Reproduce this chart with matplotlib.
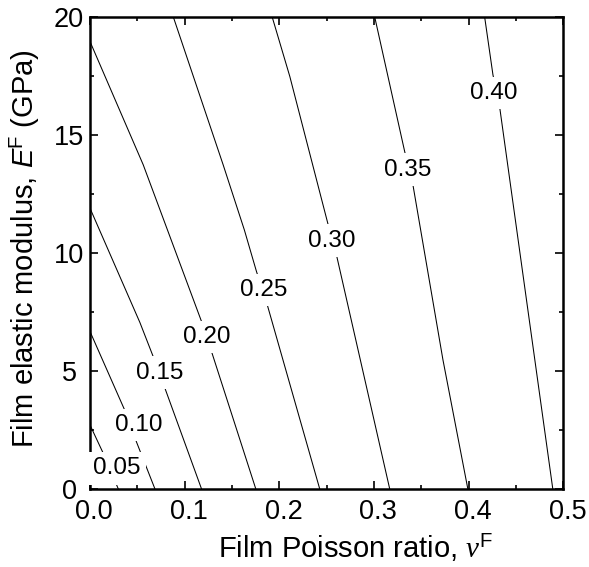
import matplotlib
matplotlib.use("Agg")
import matplotlib.pyplot as plt
from matplotlib.ticker import MultipleLocator
from matplotlib.transforms import ScaledTranslation

plt.rcParams['font.family'] = ['Liberation Sans', 'DejaVu Sans']
plt.rcParams['mathtext.fontset'] = 'custom'
plt.rcParams['mathtext.rm'] = 'Liberation Sans'
plt.rcParams['mathtext.it'] = 'Liberation Serif:italic'
plt.rcParams['mathtext.sf'] = 'Liberation Sans:italic'

# contour levels and their lines (Poisson ratio nu, modulus E in GPa)
levels = ["0.05", "0.10", "0.15", "0.20", "0.25", "0.30", "0.35", "0.40"]

nu_005 = [0.0, 0.014, 0.0299]
E_005 = [2.71, 1.51, 0.0]
nu_010 = [0.0, 0.0362, 0.049, 0.0686]
E_010 = [6.67, 3.38, 2.0, 0.0]
nu_015 = [0.0, 0.0527, 0.0668, 0.0791, 0.1178]
E_015 = [11.89, 7.05, 5.6, 4.27, 0.0]
nu_020 = [0.0, 0.0562, 0.1178, 0.128, 0.1751]
E_020 = [18.95, 13.73, 7.09, 5.86, 0.0]
nu_025 = [0.0879, 0.1406, 0.163, 0.1758, 0.1864, 0.2426]
E_025 = [20.0, 13.73, 10.97, 9.21, 7.91, 0.0]
nu_030 = [0.1923, 0.211, 0.2515, 0.2602, 0.3165]
E_030 = [20.0, 17.47, 11.19, 9.92, 0.0]
nu_035 = [0.3006, 0.3323, 0.3404, 0.3727, 0.399]
E_035 = [20.0, 14.29, 13.02, 5.47, 0.0]
nu_040 = [0.4167, 0.4255, 0.4325, 0.4624, 0.4887]
E_040 = [20.0, 17.54, 16.2, 7.58, 0.0]

label_nu = [0.028, 0.052, 0.0738, 0.1238, 0.1835, 0.2556, 0.3358, 0.4262]
label_E = [0.88, 2.71, 4.93, 6.43, 8.43, 10.52, 13.52, 16.77]

x_ticks = [0.0, 0.1, 0.2, 0.3, 0.4, 0.5]
x_ticklabels = ["0.0", "0.1", "0.2", "0.3", "0.4", "0.5"]
y_ticks = [0, 5, 10, 15, 20]
y_ticklabels = ["0", "5", "10", "15", "20"]

lines_nu = [nu_005, nu_010, nu_015, nu_020, nu_025, nu_030, nu_035, nu_040]
lines_E = [E_005, E_010, E_015, E_020, E_025, E_030, E_035, E_040]

fig = plt.figure(figsize=(5.89, 5.67), dpi=100)
ax = fig.add_axes([0.1528, 0.1376, 0.8039, 0.8329])

for xs, ys in zip(lines_nu, lines_E):
    ax.plot(xs, ys, color='black', lw=0.75, zorder=2)

for lab, lx, ly in zip(levels, label_nu, label_E):
    ax.text(lx, ly, lab, ha='center', va='center', fontsize=17.5, zorder=3,
            bbox=dict(boxstyle='square,pad=0.22', fc='white', ec='none'))

ax.set_xlim(0, 0.5)
ax.set_ylim(0, 20)
ax.set_xticks(x_ticks)
ax.set_xticklabels(x_ticklabels)
ax.set_yticks(y_ticks)
ax.set_yticklabels(y_ticklabels)
ax.xaxis.set_minor_locator(MultipleLocator(0.05))
ax.yaxis.set_minor_locator(MultipleLocator(2.5))

ax.tick_params(which='both', direction='in', top=True, right=True, width=1.2, labelsize=19.5)
ax.tick_params(which='major', length=5.5)
ax.tick_params(which='minor', length=3.2)
ax.tick_params(axis='x', pad=7.5)
ax.tick_params(axis='y', pad=15)
for s in ax.spines.values():
    s.set_linewidth(1.8)

shift = ScaledTranslation(4 / 100, 0, fig.dpi_scale_trans)
for lbl in ax.get_xticklabels():
    lbl.set_transform(lbl.get_transform() + shift)
for lbl in ax.get_yticklabels():
    lbl.set_ha('center')

ax.set_xlabel(r'Film Poisson ratio, $\nu^{\mathrm{F}}$', fontsize=21)
ax.set_ylabel(r'Film elastic modulus, $\mathsf{E}^{\mathrm{F}}$ (GPa)', fontsize=21)
ax.xaxis.set_label_coords(0.56, -0.092)
ax.yaxis.set_label_coords(-0.101, 0.5095)

fig.savefig('out.png', dpi=100)
